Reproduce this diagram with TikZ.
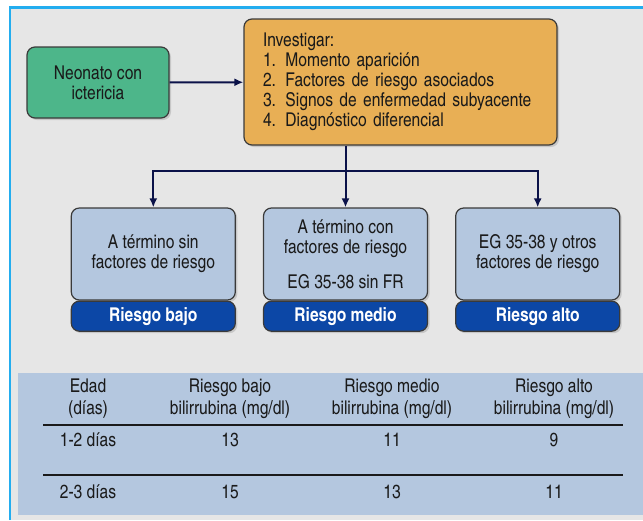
\documentclass[tikz,border=0pt]{standalone}
\usepackage{fontspec}
\setmainfont{texgyreheroscn}[Extension=.otf,UprightFont=*-regular,BoldFont=*-bold]
\usepackage{xcolor}
\usepackage{tikz}
\usetikzlibrary{arrows.meta,positioning,calc,shadows}
\definecolor{fpaper}{HTML}{E6E6E6}
\definecolor{fframe}{HTML}{23ADEF}
\definecolor{fgreen}{HTML}{4DB68A}
\definecolor{forange}{HTML}{E8AF55}
\definecolor{flight}{HTML}{B4C7DF}
\definecolor{fband}{HTML}{0C47A6}
\definecolor{fnavy}{HTML}{0B1249}
\definecolor{fedge}{HTML}{3A3A3A}
\definecolor{ftext}{HTML}{1A1A1A}

\tikzset{
  box/.style={draw=fedge,line width=1.2pt,rounded corners=8pt,text=ftext,
    font=\fontsize{19}{20}\selectfont,
    drop shadow={opacity=0.3,shadow xshift=2pt,shadow yshift=-2pt}},
  startbox/.style={box,fill=fgreen,minimum width=142pt,minimum height=71pt,align=center},
  taskbox/.style={box,fill=forange,minimum width=313pt,minimum height=126pt,
    text width=275pt,inner xsep=19pt,align=left},
  riskbox/.style={box,fill=flight,minimum width=164pt,minimum height=92pt,align=center},
  band/.style={box,fill=fband,text=white,font=\fontsize{19}{20}\selectfont\bfseries,
    minimum width=164pt,minimum height=30pt,inner sep=0pt},
  link/.style={fnavy,line width=2pt,-{Latex[length=9pt,width=8pt]}},
  cell/.style={text=ftext,font=\fontsize{19}{22}\selectfont,align=center,inner sep=0pt},
  rule/.style={ftext,line width=1.6pt}
}

\begin{document}
\begin{tikzpicture}[x=1pt,y=-1pt]
  \useasboundingbox (0,0) rectangle (643,520);
  % background and frame
  \fill[white] (0,0) rectangle (643,520);
  \fill[fpaper] (9,7) rectangle (643,520);
  \draw[fframe,line width=2.5pt] (10,520) |- (643,7.5);

  % flow
  \node[startbox] (neonato) at (98,82.5) {Neonato con\\ictericia};
  \node[taskbox] (investigar) at (400.5,82) {Investigar:\\1. Momento aparición\\2. Factores de riesgo asociados\\3. Signos de enfermedad subyacente\\4. Diagnóstico diferencial};

  \node[riskbox] (medio) at (345.5,254) {A término con\\factores de riesgo\\[15pt]EG 35-38 sin FR};
  \node[riskbox,left=27pt of medio] (bajo) {A término sin\\factores de riesgo};
  \node[riskbox,right=27pt of medio] (alto) {EG 35-38 y otros\\factores de riesgo};

  \node[band,below=0pt of bajo] (bandbajo) {Riesgo bajo};
  \node[band,below=0pt of medio] (bandmedio) {Riesgo medio};
  \node[band,below=0pt of alto] (bandalto) {Riesgo alto};

  \draw[link] (neonato) -- (investigar);
  \coordinate (split) at ($(medio.north)+(0,-36)$);
  \draw[link] (investigar.south -| medio.north) -- (medio.north);
  \draw[link] (split) -| (bajo.north);
  \draw[link] (split) -| (alto.north);

  % table
  \fill[flight] (18,373) rectangle (643,515);
  \node[cell] (hedad) at (88,399) {Edad\\(días)};
  \node[cell] (hbajo) at (230,399) {Riesgo bajo\\bilirrubina (mg/dl)};
  \node[cell] (hmedio) at (392,399) {Riesgo medio\\bilirrubina (mg/dl)};
  \node[cell] (halto) at (554,399) {Riesgo alto\\bilirrubina (mg/dl)};
  \draw[rule] (43,425) -- (623,425);
  \node[cell] (edad1) at (88,440) {1-2 días};
  \node[cell] (bajo1) at (230,440) {13};
  \node[cell] (medio1) at (392,440) {11};
  \node[cell] (alto1) at (554,440) {9};
  \draw[rule] (43,475) -- (623,475);
  \node[cell] (edad2) at (88,492) {2-3 días};
  \node[cell] (bajo2) at (230,492) {15};
  \node[cell] (medio2) at (392,492) {13};
  \node[cell] (alto2) at (554,492) {11};
\end{tikzpicture}
\end{document}
